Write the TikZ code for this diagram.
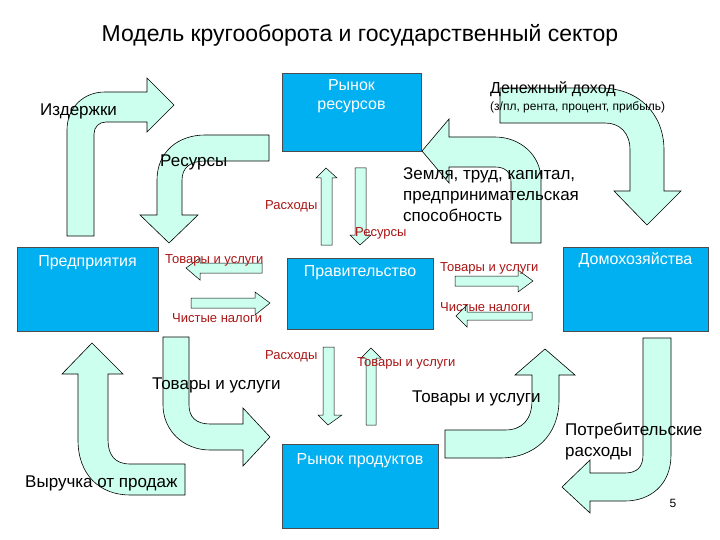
\documentclass[tikz,border=0pt]{standalone}
\usepackage{fontspec}
\setmainfont{Liberation Sans}
\definecolor{boxblue}{RGB}{0,176,240}
\definecolor{arrowfill}{RGB}{204,255,238}
\definecolor{labred}{RGB}{170,20,20}
\tikzset{
  box/.style={draw=black!70, fill=boxblue, inner sep=0pt},
  boxtext/.style={text=white, font=\fontsize{16}{19}\selectfont, align=center, inner sep=0pt},
  bigarrow/.style={draw=black, fill=arrowfill, line width=0.6pt},
  smallarrow/.style={draw=black, fill=arrowfill, line width=0.5pt},
  lab/.style={font=\fontsize{17}{21}\selectfont, anchor=west, inner sep=0pt, align=left},
  redlab/.style={font=\fontsize{13}{16}\selectfont, anchor=west, inner sep=0pt, text=labred}
}
\begin{document}
\begin{tikzpicture}[x=1pt, y=-1pt]
\useasboundingbox (0,0) rectangle (720,540);

% big arrows
\draw[bigarrow] (67,236) -- (67,130) .. controls (67,108) and (83,92) .. (105,92) -- (147,92) -- (147,78) -- (174,105) -- (147,132) -- (147,122) -- (106,122) .. controls (99,122) and (94,127) .. (94,134) -- (94,236) -- cycle;
\draw[bigarrow] (269,135) -- (205,135) .. controls (178,135) and (157,152) .. (157,180) -- (157,215) -- (140,215) -- (169,243) -- (198,215) -- (182,215) -- (182,180) .. controls (182,168) and (190,161) .. (205,161) -- (269,161) -- cycle;
\draw[bigarrow] (500,88) -- (600,88) .. controls (640,88) and (664,115) .. (664,150) -- (664,191) -- (681,191) -- (647,225) -- (614,191) -- (630,191) -- (630,150) .. controls (630,133) and (620,123) .. (605,123) -- (500,123) -- cycle;
\draw[bigarrow] (541,243) -- (541,180) .. controls (541,155) and (520,137) .. (495,137) -- (449,137) -- (449,119) -- (422,151) -- (449,183) -- (449,167) -- (495,167) .. controls (505,167) and (511,172) .. (511,182) -- (511,243) -- cycle;
\draw[bigarrow] (185,464) -- (130,464) .. controls (115,464) and (108,455) .. (108,440) -- (108,374) -- (123,374) -- (92,343) -- (62,374) -- (78,374) -- (78,440) .. controls (78,475) and (100,495) .. (130,495) -- (185,495) -- cycle;
\draw[bigarrow] (163,337) -- (189,337) -- (189,405) .. controls (189,417) and (196,424) .. (210,424) -- (243,424) -- (243,408) -- (270,437) -- (243,466) -- (243,450) -- (210,450) .. controls (183,450) and (163,430) .. (163,405) -- cycle;
\draw[bigarrow] (445,430) -- (505,430) .. controls (522,430) and (532,420) .. (532,400) -- (532,375) -- (515,375) -- (545,349) -- (575,375) -- (559,375) -- (559,400) .. controls (559,435) and (535,458) .. (500,458) -- (445,458) -- cycle;
\draw[bigarrow] (643,338) -- (671,338) -- (671,455) .. controls (671,485) and (650,501) .. (625,501) -- (590,501) -- (590,513) -- (562,487) -- (590,460) -- (590,473) -- (625,473) .. controls (637,473) and (643,467) .. (643,455) -- cycle;

% small arrows
\draw[smallarrow] (321,245) -- (321,178) -- (316,178) -- (326,168) -- (337,178) -- (332,178) -- (332,245) -- cycle;
\draw[smallarrow] (355,168) -- (366,168) -- (366,235) -- (371,235) -- (360,245) -- (350,235) -- (355,235) -- cycle;
\draw[smallarrow] (323,347) -- (334,347) -- (334,415) -- (342,415) -- (328,425) -- (318,415) -- (323,415) -- cycle;
\draw[smallarrow] (366,425) -- (366,358) -- (361,358) -- (371,348) -- (381,358) -- (376,358) -- (376,425) -- cycle;
\draw[smallarrow] (262,263) -- (200,263) -- (200,258) -- (186,268) -- (200,280) -- (200,273) -- (262,273) -- cycle;
\draw[smallarrow] (191,298) -- (255,298) -- (255,292) -- (270,303) -- (255,315) -- (255,308) -- (191,308) -- cycle;
\draw[smallarrow] (455,276) -- (518,276) -- (518,270) -- (533,281) -- (518,292) -- (518,286) -- (455,286) -- cycle;
\draw[smallarrow] (532,312) -- (467,312) -- (467,305) -- (456,316) -- (467,327) -- (467,320) -- (532,320) -- cycle;

% boxes
\node[box, minimum width=139, minimum height=78] (rr) at (351.5,112) {};
\node[boxtext, below=6pt] at (rr.north) {Рынок\\ресурсов};
\node[box, minimum width=141, minimum height=84] (firms) at (87.5,289) {};
\node[boxtext, below=8pt] at (firms.north) {Предприятия};
\node[box, minimum width=146, minimum height=71] (gov) at (360,293.5) {};
\node[boxtext, below=7pt] at (gov.north) {Правительство};
\node[box, minimum width=145, minimum height=84] (house) at (635.5,289) {};
\node[boxtext, below=6pt] at (house.north) {Домохозяйства};
\node[box, minimum width=156, minimum height=84] (rp) at (360,486) {};
\node[boxtext, below=9pt] at (rp.north) {Рынок продуктов};

% labels
\node[font=\fontsize{23}{27}\selectfont] (title) at (360,35) {Модель кругооборота и государственный сектор};
\node[lab] (costs) at (40,111) {Издержки};
\node[lab] (res) at (160,162) {Ресурсы};
\node[lab] (land) at (403,195) {Земля, труд, капитал,\\предпринимательская\\способность};
\node[lab, font=\fontsize{16}{19}\selectfont] (income) at (490,89) {Денежный доход};
\node[lab, font=\fontsize{12}{14}\selectfont] (incomedet) at (490,107) {(з/пл, рента, процент, прибыль)};
\node[lab] (goodsl) at (152,385) {Товары и услуги};
\node[lab] (goodsr) at (412,398) {Товары и услуги};
\node[lab] (revenue) at (25,483) {Выручка от продаж};
\node[lab] (cons) at (565,442) {Потребительские\\расходы};
\node[font=\fontsize{12}{14}\selectfont] (page) at (673,503) {5};
\node[redlab] (exp1) at (265,206) {Расходы};
\node[redlab] (res2) at (355,233) {Ресурсы};
\node[redlab] (gs1) at (165,260) {Товары и услуги};
\node[redlab] (tax1) at (172,318) {Чистые налоги};
\node[redlab] (gs2) at (440,268) {Товары и услуги};
\node[redlab] (tax2) at (440,307) {Чистые налоги};
\node[redlab] (exp2) at (265,356) {Расходы};
\node[redlab] (gs3) at (357,363) {Товары и услуги};
\end{tikzpicture}
\end{document}
